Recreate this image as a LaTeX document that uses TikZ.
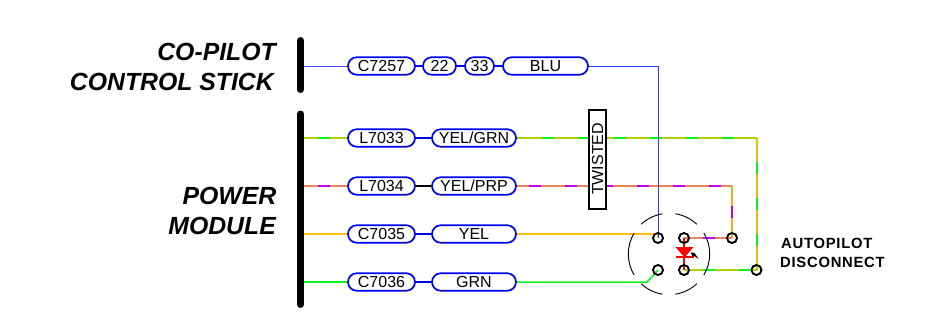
\documentclass[tikz,border=0pt]{standalone}
\usepackage{fontspec}
\setmainfont{Liberation Sans}
\usetikzlibrary{shapes.misc}
\definecolor{pillblue}{HTML}{0000F0}
\definecolor{olivew}{HTML}{B0D000}
\definecolor{yelw}{HTML}{D8C400}
\definecolor{greenw}{HTML}{10F020}
\definecolor{salw}{HTML}{E88458}
\definecolor{purw}{HTML}{C000FF}
\definecolor{orw}{HTML}{F4A828}
\definecolor{yow}{HTML}{FFBC10}
\tikzset{
  x=1pt,y=-1pt,
  pill/.style={draw=pillblue,line width=1.7pt,fill=white,rounded rectangle,inner sep=0pt,minimum height=17.5pt,font=\fontsize{16}{16}\selectfont,text=black},
  pillw/.style={pill,minimum width=#1},
  link/.style={pillblue,line width=1.7pt},
  linkk/.style={black,line width=1.7pt},
  bar/.style={black,line width=7pt,line cap=round},
  title/.style={anchor=base east,inner sep=0pt,font=\fontsize{24.8}{25}\selectfont\bfseries\itshape},
  lab/.style={anchor=base west,inner sep=0pt,font=\fontsize{14.8}{15}\selectfont\bfseries\addfontfeatures{LetterSpace=5}},
  pin/.style={circle,draw=black,line width=1.6pt,fill=none,minimum size=10pt,inner sep=0pt},
  wire/.style={line width=1.5pt},
  dashw/.style={line width=1.5pt,dash pattern=on 12pt off 24pt,dash phase=#1},
  rim/.style={black,line width=0.9pt},
}
\begin{document}
\begin{tikzpicture}
\useasboundingbox (0,0) rectangle (934,323);
\fill[white] (0,0) rectangle (934,323);
% end points
\coordinate (b1a) at (300.5,40.5);\coordinate (b1b) at (300.5,89.5);
\coordinate (b2a) at (300.5,114);\coordinate (b2b) at (300.5,304.5);
\coordinate (s1) at (304,66);\coordinate (s2) at (304,138);\coordinate (s3) at (304,186);\coordinate (s4) at (304,234);\coordinate (s5) at (304,282);
\coordinate (c1) at (658,66);\coordinate (c2) at (757,138);\coordinate (c3) at (732,186);
\coordinate (c4) at (658,234);\coordinate (c5) at (647,282);
% pills
\node[pillw=67pt] (p1a) at (381.5,66) {C7257};
\node[pillw=33pt] (p1b) at (439.5,66) {22};
\node[pillw=29pt] (p1c) at (479.5,66) {33};
\node[pillw=85pt] (p1d) at (545.5,66) {BLU};
\node[pillw=67pt] (p2a) at (381.5,138) {L7033};
\node[pillw=84pt] (p2b) at (474,138) {YEL/GRN};
\node[pillw=67pt] (p3a) at (381.5,186) {L7034};
\node[pillw=84pt] (p3b) at (474,186) {YEL/PRP};
\node[pillw=67pt] (p4a) at (381.5,234) {C7035};
\node[pillw=84pt] (p4b) at (474,234) {YEL};
\node[pillw=67pt] (p5a) at (381.5,282) {C7036};
\node[pillw=84pt] (p5b) at (474,282) {GRN};
% pins
\node[pin] (t1) at (658,238) {};
\node[pin] (t2) at (684,238) {};
\node[pin] (t3) at (658,270) {};
\node[pin] (t4) at (684,270) {};
\node[pin] (t5) at (732,238) {};
\node[pin] (t6) at (756.5,270) {};
% pill links
\draw[link] (p1a) -- (p1b);\draw[link] (p1b) -- (p1c);\draw[link] (p1c) -- (p1d);
\draw[link] (p2a) -- (p2b);
\draw[linkk] (p3a) -- (p3b);
\draw[link] (p4a) -- (p4b);
\draw[link] (p5a) -- (p5b);
% yellow-green
\draw[wire,olivew] (s2) -- (p2a.west);
\draw[dashw=22,greenw] (s2) -- (p2a.west);
\draw[wire,olivew] (p2b.east) -- (c2);
\draw[dashw=11,greenw] (p2b.east) -- (c2);
\draw[wire,yelw] (c2) -- (c2 |- t6);
\draw[dashw=12,greenw] (c2) -- (c2 |- t6);
\draw[wire,olivew] (t4.center) -- (t6.center);
\draw[dashw=17,greenw] (t4.center) -- (t6.center);
% yellow-purple
\draw[wire,salw] (s3) -- (p3a.west);
\draw[dashw=22,purw] (s3) -- (p3a.west);
\draw[wire,salw] (p3b.east) -- (c3);
\draw[dashw=24,purw] (p3b.east) -- (c3);
\draw[wire,orw] (c3) -- (t5.center);
\draw[dashw=16,purw] (c3) -- (t5.center);
\draw[wire,salw] (t2.center) -- (t5.center);
\draw[dashw=17,purw] (t2.center) -- (t5.center);
% yellow
\draw[wire,yow] (s4) -- (p4a.west);
\draw[wire,yow] (p4b.east) -- (c4) -- (t1.center);
% green
\draw[wire,greenw] (s5) -- (p5a.west);
\draw[wire,greenw] (p5b.east) -- (c5) -- (t3.center);
% blue
\draw[blue!70!white,line width=0.9pt] (s1) -- (p1a.west);
\draw[blue!80!white,line width=0.9pt] (p1d.east) -- (c1) -- (t1.center);
% connector rim
\coordinate (rc) at (669,254);
\foreach \a/\b in {47/81,99/133,149/211,227/261,279/313,329/391}
  \draw[rim] (rc) ++(\a:40.7pt) arc[start angle=\a,end angle=\b,radius=40.7pt];
% diode
\draw[red,line width=2.4pt] (t2.center) -- (t4.center);
\fill[red] (675.5,247) -- (693.5,247) -- (684.5,257.5) -- cycle;
\draw[red,line width=2.4pt] (675.5,257) -- (693.5,257);
\fill[black] (690.5,252.5) -- (694.5,253) -- (696,255) -- (698.5,259) -- (695,256.5) -- (692.5,256) -- cycle;
% pins again on top
\node[pin] at (t1) {};
\node[pin] at (t2) {};
\node[pin] at (t3) {};
\node[pin] at (t4) {};
\node[pin] at (t5) {};
\node[pin] at (t6) {};
% twisted
\node[draw=black,line width=1.8pt,fill=white,minimum width=17pt,minimum height=99pt,inner sep=0pt] (tw) at (597.5,159.5) {};
\node[rotate=90,inner sep=0pt,font=\fontsize{16}{16}\selectfont,text=black] (twt) at (597.5,159) {TWISTED};
% bars
\draw[bar] (b1a) -- (b1b);
\draw[bar] (b2a) -- (b2b);
% titles
\node[title] (h1) at (276,60.5) {CO-PILOT};
\node[title] (h2) at (274,90.5) {CONTROL STICK};
\node[title] (h3) at (276.5,204.5) {POWER};
\node[title] (h4) at (276,234.5) {MODULE};
\node[lab] (l1) at (781,248) {AUTOPILOT};
\node[lab] (l2) at (780,267) {DISCONNECT};
\end{tikzpicture}
\end{document}
